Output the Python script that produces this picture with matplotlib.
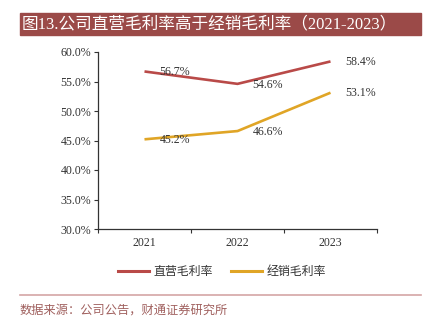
import matplotlib.pyplot as plt
from matplotlib.patches import Rectangle
from matplotlib.lines import Line2D

plt.rcParams['font.family'] = ['Liberation Serif', 'Noto Sans CJK SC', 'DejaVu Sans']

years = ['2021', '2022', '2023']
direct_margin = [56.7, 54.6, 58.4]
dealer_margin = [45.2, 46.6, 53.1]
yticks = [30, 35, 40, 45, 50, 55, 60]

red = '#B94A48'
gold = '#E0A526'
text_c = '#333333'

fig = plt.figure(figsize=(4.32, 3.22), dpi=100)
W, H = 432, 322

# title banner
fig.patches.append(Rectangle((20 / W, 1 - 35 / H), 401 / W, 22 / H,
                             transform=fig.transFigure, color='#9B4A48', zorder=0))
fig.text(22 / W, 1 - 24.5 / H, '图13.公司直营毛利率高于经销毛利率（2021-2023）',
         color='white', fontsize=12, va='center', ha='left')

ax = fig.add_axes([98 / W, 1 - 229 / H, 279 / W, 177 / H])
x = range(len(years))
ax.plot(x, direct_margin, color=red, lw=1.9, solid_capstyle='butt')
ax.plot(x, dealer_margin, color=gold, lw=1.9, solid_capstyle='butt')

for i in x:
    for v in (direct_margin[i], dealer_margin[i]):
        ax.annotate(f'{v:.1f}%', (i, v), xytext=(10.8, -0.5), textcoords='offset points',
                    ha='left', va='center', fontsize=8.6, color=text_c)

ax.set_xlim(-0.5, 2.5)
ax.set_ylim(30, 60)
ax.set_yticks(yticks)
ax.set_yticklabels([f'{v:.1f}%' for v in yticks])
ax.set_xticks([-0.5, 0.5, 1.5, 2.5])
ax.set_xticklabels([])
ax.set_xticks(list(x), minor=True)
ax.set_xticklabels(years, minor=True)
ax.tick_params(axis='x', which='major', length=3, color=text_c)
ax.tick_params(axis='x', which='minor', length=0, labelsize=8.6, labelcolor=text_c, pad=6)
ax.tick_params(axis='y', length=3, labelsize=8.6, labelcolor=text_c, color=text_c, pad=2)
for s in ('top', 'right'):
    ax.spines[s].set_visible(False)
for s in ('left', 'bottom'):
    ax.spines[s].set_color(text_c)
    ax.spines[s].set_linewidth(0.9)

handles = [Line2D([], [], color=red, lw=2.2), Line2D([], [], color=gold, lw=2.2)]
fig.legend(handles, ['直营毛利率', '经销毛利率'], loc='center', ncol=2,
           bbox_to_anchor=(222 / W, 1 - 272 / H), frameon=False, fontsize=8.6,
           handlelength=2.6, handletextpad=0.4, columnspacing=1.5, labelcolor=text_c)

fig.add_artist(Line2D([20 / W, 421 / W], [1 - 294.5 / H] * 2, transform=fig.transFigure,
                      color='#D4A5A5', lw=1.2))
fig.text(20 / W, 1 - 311 / H, '数据来源：公司公告，财通证券研究所', color='#A0605E',
         fontsize=8.8, va='center', ha='left')

fig.savefig('out.png', dpi=100)
